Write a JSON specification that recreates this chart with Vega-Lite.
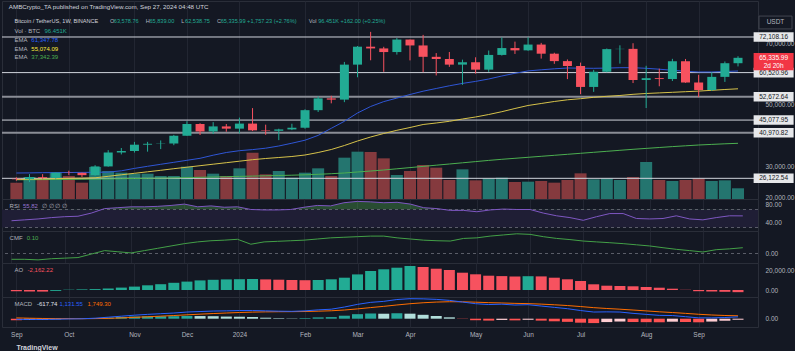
{
"$schema": "https://vega.github.io/schema/vega-lite/v6.json",
"background": "#141823",
"padding": 0,
"spacing": 0,
"bounds": "flush",
"config": {
 "view": {"stroke": "#2a2e39"},
 "font": "Liberation Sans",
 "text": {"font": "Liberation Sans", "fontSize": 6, "align": "left", "baseline": "middle"},
 "axis": {"labelFont": "Liberation Sans", "labelFontSize": 6.5, "labelColor": "#b2b5be", "ticks": false, "domain": false, "labelOverlap": false, "labelFlush": false, "gridColor": "#222632", "gridWidth": 1},
 "axisY": {"grid": false, "labelPadding": 7},
 "axisX": {"grid": true},
 "concat": {"spacing": 0}
},
"datasets": {
 "lv": [{"p":72108.16,"k":"w"},{"p":60520.96,"k":"w"},{"p":52672.64,"k":"g"},{"p":45077.95,"k":"w"},{"p":40970.82,"k":"g"},{"p":26122.54,"k":"w"}],
 "w": [
{"d":"2023-09-04","o":25969,"h":26439,"l":25333,"c":25832,"v":147,"e1":27853,"e2":25738,"e3":25641,"r":45,"cm":-0.10,"ao":-1300,"ad":"d","m":-400,"s":480,"hi":-880,"hc":"nd"},
{"d":"2023-09-11","o":25832,"h":27488,"l":24901,"c":26527,"v":198,"e1":27886,"e2":25803,"e3":25673,"r":47,"cm":-0.10,"ao":-1500,"ad":"d","m":-450,"s":294,"hi":-744,"hc":"nu"},
{"d":"2023-09-18","o":26527,"h":27485,"l":25890,"c":26257,"v":186,"e1":27951,"e2":25901,"e3":25706,"r":49,"cm":-0.11,"ao":-1600,"ad":"d","m":-450,"s":145,"hi":-595,"hc":"nu"},
{"d":"2023-09-25","o":26257,"h":28050,"l":25990,"c":27983,"v":237,"e1":27983,"e2":25998,"e3":25738,"r":52,"cm":-0.09,"ao":-900,"ad":"u","m":-300,"s":56,"hi":-356,"hc":"nu"},
{"d":"2023-10-02","o":27983,"h":28600,"l":27160,"c":27917,"v":207,"e1":28016,"e2":26096,"e3":25771,"r":54,"cm":-0.08,"ao":300,"ad":"u","m":-150,"s":15,"hi":-165,"hc":"nu"},
{"d":"2023-10-09","o":27917,"h":27990,"l":26538,"c":27154,"v":147,"e1":28048,"e2":26194,"e3":25803,"r":55,"cm":-0.07,"ao":600,"ad":"u","m":-50,"s":2,"hi":-52,"hc":"nu"},
{"d":"2023-10-16","o":27154,"h":30400,"l":26980,"c":29993,"v":288,"e1":28081,"e2":26291,"e3":25868,"r":62,"cm":-0.01,"ao":900,"ad":"u","m":300,"s":62,"hi":238,"hc":"pu"},
{"d":"2023-10-23","o":29993,"h":35280,"l":29900,"c":34526,"v":252,"e1":28146,"e2":26780,"e3":25933,"r":72,"cm":0.05,"ao":1500,"ad":"u","m":900,"s":230,"hi":670,"hc":"pu"},
{"d":"2023-10-30","o":34526,"h":35984,"l":33900,"c":35011,"v":237,"e1":28569,"e2":27268,"e3":25998,"r":74,"cm":0.03,"ao":2400,"ad":"u","m":1500,"s":484,"hi":1016,"hc":"pu"},
{"d":"2023-11-06","o":35011,"h":37977,"l":34500,"c":37064,"v":228,"e1":29350,"e2":27756,"e3":26063,"r":76,"cm":0.01,"ao":3400,"ad":"u","m":2100,"s":807,"hi":1293,"hc":"pu"},
{"d":"2023-11-13","o":37064,"h":37980,"l":34800,"c":37359,"v":228,"e1":30033,"e2":28244,"e3":26128,"r":76,"cm":0.05,"ao":4700,"ad":"u","m":2600,"s":1166,"hi":1434,"hc":"pu"},
{"d":"2023-11-20","o":37359,"h":38450,"l":35632,"c":37450,"v":207,"e1":30684,"e2":28732,"e3":26194,"r":77,"cm":0.09,"ao":5800,"ad":"u","m":3000,"s":1533,"hi":1467,"hc":"pu"},
{"d":"2023-11-27","o":37450,"h":40250,"l":36900,"c":39973,"v":207,"e1":31335,"e2":29253,"e3":26259,"r":79,"cm":0.13,"ao":7200,"ad":"u","m":3400,"s":1906,"hi":1494,"hc":"pu"},
{"d":"2023-12-04","o":39973,"h":44700,"l":39970,"c":43790,"v":291,"e1":31986,"e2":29741,"e3":26356,"r":82,"cm":0.17,"ao":8400,"ad":"u","m":4000,"s":2325,"hi":1675,"hc":"pu"},
{"d":"2023-12-11","o":43790,"h":44050,"l":40222,"c":41374,"v":261,"e1":32636,"e2":30229,"e3":26454,"r":76,"cm":0.20,"ao":9600,"ad":"u","m":4300,"s":2720,"hi":1580,"hc":"pd"},
{"d":"2023-12-18","o":41374,"h":44398,"l":40530,"c":43016,"v":228,"e1":33645,"e2":30717,"e3":26552,"r":78,"cm":0.22,"ao":10200,"ad":"u","m":4600,"s":3096,"hi":1504,"hc":"pd"},
{"d":"2023-12-25","o":43016,"h":43800,"l":41300,"c":42284,"v":207,"e1":34524,"e2":31205,"e3":26649,"r":75,"cm":0.23,"ao":10600,"ad":"u","m":4700,"s":3417,"hi":1283,"hc":"pd"},
{"d":"2024-01-01","o":42284,"h":45879,"l":40750,"c":43929,"v":276,"e1":35110,"e2":31693,"e3":26747,"r":76,"cm":0.245,"ao":10800,"ad":"u","m":4900,"s":3714,"hi":1186,"hc":"pd"},
{"d":"2024-01-08","o":43929,"h":48970,"l":41500,"c":41732,"v":417,"e1":35468,"e2":32181,"e3":26845,"r":70,"cm":0.16,"ao":10900,"ad":"u","m":4900,"s":3951,"hi":949,"hc":"pd"},
{"d":"2024-01-15","o":41732,"h":43580,"l":40280,"c":41580,"v":222,"e1":35923,"e2":32572,"e3":26942,"r":69,"cm":0.20,"ao":10600,"ad":"d","m":4700,"s":4101,"hi":599,"hc":"pd"},
{"d":"2024-01-22","o":41580,"h":42259,"l":38555,"c":42031,"v":252,"e1":36639,"e2":32897,"e3":27040,"r":69,"cm":0.21,"ao":10300,"ad":"d","m":4500,"s":4181,"hi":319,"hc":"pd"},
{"d":"2024-01-29","o":42031,"h":43880,"l":41800,"c":42582,"v":192,"e1":37550,"e2":33222,"e3":27137,"r":70,"cm":0.22,"ao":10000,"ad":"d","m":4400,"s":4225,"hi":175,"hc":"pd"},
{"d":"2024-02-05","o":42582,"h":48592,"l":42258,"c":48300,"v":237,"e1":38527,"e2":33710,"e3":27268,"r":75,"cm":0.23,"ao":9800,"ad":"d","m":4700,"s":4320,"hi":380,"hc":"pu"},
{"d":"2024-02-12","o":48300,"h":52816,"l":47710,"c":52137,"v":276,"e1":40089,"e2":34524,"e3":27430,"r":79,"cm":0.25,"ao":10000,"ad":"u","m":5300,"s":4516,"hi":784,"hc":"pu"},
{"d":"2024-02-19","o":52137,"h":52985,"l":50521,"c":51729,"v":207,"e1":42399,"e2":35500,"e3":27626,"r":78,"cm":0.27,"ao":10700,"ad":"u","m":5700,"s":4753,"hi":947,"hc":"pu"},
{"d":"2024-02-26","o":51729,"h":64000,"l":50901,"c":63114,"v":372,"e1":44677,"e2":36802,"e3":27854,"r":85,"cm":0.28,"ao":12300,"ad":"u","m":7000,"s":5202,"hi":1798,"hc":"pu"},
{"d":"2024-03-04","o":63114,"h":69170,"l":59005,"c":68955,"v":426,"e1":47377,"e2":38266,"e3":28179,"r":88,"cm":0.29,"ao":15600,"ad":"u","m":8600,"s":5882,"hi":2718,"hc":"pu"},
{"d":"2024-03-11","o":68955,"h":73777,"l":64533,"c":68390,"v":423,"e1":49493,"e2":39568,"e3":28504,"r":87,"cm":0.30,"ao":19000,"ad":"u","m":9800,"s":6666,"hi":3134,"hc":"pu"},
{"d":"2024-03-18","o":68390,"h":68920,"l":60775,"c":67210,"v":366,"e1":51087,"e2":40707,"e3":28830,"r":85,"cm":0.30,"ao":20700,"ad":"u","m":10400,"s":7413,"hi":2987,"hc":"pd"},
{"d":"2024-03-25","o":67210,"h":71769,"l":66385,"c":71280,"v":216,"e1":52226,"e2":41748,"e3":29220,"r":86,"cm":0.27,"ao":22300,"ad":"u","m":11500,"s":8230,"hi":3270,"hc":"pu"},
{"d":"2024-04-01","o":71280,"h":71288,"l":64500,"c":69360,"v":252,"e1":53397,"e2":42659,"e3":29611,"r":82,"cm":0.25,"ao":24000,"ad":"u","m":12000,"s":8984,"hi":3016,"hc":"pd"},
{"d":"2024-04-08","o":69360,"h":72797,"l":60660,"c":65660,"v":306,"e1":54471,"e2":43635,"e3":30001,"r":74,"cm":0.23,"ao":23000,"ad":"d","m":11900,"s":9567,"hi":2333,"hc":"pd"},
{"d":"2024-04-15","o":65660,"h":66868,"l":59600,"c":64941,"v":282,"e1":55350,"e2":44124,"e3":30392,"r":72,"cm":0.22,"ao":21300,"ad":"d","m":11600,"s":9974,"hi":1626,"hc":"pd"},
{"d":"2024-04-22","o":64941,"h":67233,"l":62391,"c":63118,"v":171,"e1":56228,"e2":44677,"e3":30782,"r":68,"cm":0.215,"ao":20000,"ad":"d","m":11000,"s":10179,"hi":821,"hc":"pd"},
{"d":"2024-04-29","o":63118,"h":64735,"l":56552,"c":63891,"v":267,"e1":57009,"e2":45425,"e3":31173,"r":68,"cm":0.26,"ao":17300,"ad":"d","m":10000,"s":10143,"hi":-143,"hc":"nd"},
{"d":"2024-05-06","o":63891,"h":65500,"l":60187,"c":61484,"v":168,"e1":57660,"e2":46076,"e3":31563,"r":65,"cm":0.27,"ao":15700,"ad":"d","m":9000,"s":9914,"hi":-914,"hc":"nd"},
{"d":"2024-05-13","o":61484,"h":67700,"l":60750,"c":66274,"v":186,"e1":58441,"e2":46889,"e3":31954,"r":69,"cm":0.30,"ao":14300,"ad":"d","m":8500,"s":9631,"hi":-1131,"hc":"nd"},
{"d":"2024-05-20","o":66274,"h":71979,"l":66060,"c":68507,"v":192,"e1":59417,"e2":47801,"e3":32312,"r":71,"cm":0.32,"ao":13900,"ad":"d","m":8700,"s":9445,"hi":-745,"hc":"nu"},
{"d":"2024-05-27","o":68507,"h":70600,"l":66600,"c":67766,"v":153,"e1":60296,"e2":48842,"e3":32637,"r":70,"cm":0.34,"ao":13500,"ad":"d","m":8200,"s":9196,"hi":-996,"hc":"nd"},
{"d":"2024-06-03","o":67766,"h":71997,"l":67612,"c":69648,"v":156,"e1":61077,"e2":49819,"e3":32962,"r":70,"cm":0.33,"ao":13800,"ad":"u","m":8400,"s":9037,"hi":-637,"hc":"nu"},
{"d":"2024-06-10","o":69648,"h":70195,"l":65078,"c":66676,"v":162,"e1":61435,"e2":50469,"e3":33288,"r":62,"cm":0.29,"ao":13600,"ad":"d","m":7600,"s":8750,"hi":-1150,"hc":"nd"},
{"d":"2024-06-17","o":66676,"h":66986,"l":63379,"c":64260,"v":147,"e1":61760,"e2":51120,"e3":33613,"r":56,"cm":0.26,"ao":12300,"ad":"d","m":6800,"s":8360,"hi":-1560,"hc":"nd"},
{"d":"2024-06-24","o":64260,"h":64800,"l":58402,"c":62678,"v":171,"e1":62020,"e2":51673,"e3":33939,"r":52,"cm":0.24,"ao":10700,"ad":"d","m":6000,"s":7888,"hi":-1888,"hc":"nd"},
{"d":"2024-07-01","o":62678,"h":63777,"l":53485,"c":55857,"v":231,"e1":61955,"e2":52031,"e3":34264,"r":46,"cm":0.215,"ao":9000,"ad":"d","m":4900,"s":7290,"hi":-2390,"hc":"nd"},
{"d":"2024-07-08","o":55857,"h":61420,"l":54260,"c":60797,"v":177,"e1":61923,"e2":52487,"e3":34589,"r":54,"cm":0.20,"ao":5700,"ad":"d","m":4000,"s":6632,"hi":-2632,"hc":"nd"},
{"d":"2024-07-15","o":60797,"h":68366,"l":60631,"c":68165,"v":186,"e1":61988,"e2":52812,"e3":34915,"r":61,"cm":0.186,"ao":4300,"ad":"d","m":4100,"s":6126,"hi":-2026,"hc":"nu"},
{"d":"2024-07-22","o":68165,"h":69399,"l":63456,"c":68249,"v":171,"e1":62118,"e2":53073,"e3":35240,"r":61,"cm":0.17,"ao":4000,"ad":"d","m":4000,"s":5701,"hi":-1701,"hc":"nu"},
{"d":"2024-07-29","o":68249,"h":70079,"l":57122,"c":58116,"v":198,"e1":62118,"e2":53463,"e3":35565,"r":50,"cm":0.15,"ao":3700,"ad":"d","m":3200,"s":5201,"hi":-2001,"hc":"nd"},
{"d":"2024-08-05","o":58116,"h":62745,"l":49000,"c":58713,"v":333,"e1":61923,"e2":53723,"e3":35858,"r":49,"cm":0.13,"ao":3000,"ad":"d","m":2600,"s":4681,"hi":-2081,"hc":"nd"},
{"d":"2024-08-12","o":58713,"h":61800,"l":56078,"c":58427,"v":171,"e1":61630,"e2":53918,"e3":36151,"r":50,"cm":0.10,"ao":2300,"ad":"d","m":2000,"s":4145,"hi":-2145,"hc":"nd"},
{"d":"2024-08-19","o":58427,"h":65000,"l":57787,"c":64220,"v":162,"e1":61272,"e2":54114,"e3":36444,"r":56,"cm":0.072,"ao":1300,"ad":"d","m":1900,"s":3696,"hi":-1796,"hc":"nu"},
{"d":"2024-08-26","o":64220,"h":64962,"l":57201,"c":57301,"v":171,"e1":60947,"e2":54309,"e3":36704,"r":49,"cm":0.05,"ao":200,"ad":"d","m":1200,"s":3197,"hi":-1997,"hc":"nd"},
{"d":"2024-09-02","o":57301,"h":59809,"l":52550,"c":54869,"v":186,"e1":60719,"e2":54504,"e3":36964,"r":47,"cm":0.026,"ao":-1200,"ad":"d","m":500,"s":2658,"hi":-2158,"hc":"nd"},
{"d":"2024-09-09","o":54869,"h":60670,"l":54565,"c":59132,"v":162,"e1":60719,"e2":54764,"e3":37160,"r":52,"cm":0.066,"ao":-1500,"ad":"d","m":500,"s":2226,"hi":-1726,"hc":"nu"},
{"d":"2024-09-16","o":59132,"h":64133,"l":57493,"c":63578,"v":168,"e1":60882,"e2":55025,"e3":37355,"r":56,"cm":0.08,"ao":-1800,"ad":"d","m":700,"s":1921,"hi":-1221,"hc":"nu"},
{"d":"2024-09-23","o":63578.76,"h":65839,"l":62538.75,"c":65335.99,"v":96.451,"e1":61044,"e2":55253,"e3":37518,"r":55.82,"cm":0.10,"ao":-2162.22,"ad":"d","m":1131.55,"s":1749.30,"hi":-617.74,"hc":"nu"}
 ]
},
"vconcat": [
 {
  "width": 756, "height": 198,
  "data": {"name": "w"},
  "resolve": {"scale": {"y": "independent"}},
  "layer": [
   {"mark": {"type": "bar", "width": 12},
    "encoding": {
     "x": {"field": "d", "type": "temporal", "scale": {"type": "utc", "domain": [{"year":2023,"month":8,"date":30,"utc":true},{"year":2024,"month":10,"date":1,"utc":true}]},
           "axis": {"values": [{"year":2023,"month":9,"date":4,"utc":true},{"year":2023,"month":10,"date":2,"utc":true},{"year":2023,"month":11,"date":6,"utc":true},{"year":2023,"month":12,"date":4,"utc":true},{"year":2024,"month":1,"date":1,"utc":true},{"year":2024,"month":2,"date":5,"utc":true},{"year":2024,"month":3,"date":4,"utc":true},{"year":2024,"month":4,"date":1,"utc":true},{"year":2024,"month":5,"date":6,"utc":true},{"year":2024,"month":6,"date":3,"utc":true},{"year":2024,"month":7,"date":1,"utc":true},{"year":2024,"month":8,"date":5,"utc":true},{"year":2024,"month":9,"date":2,"utc":true}], "labels": false, "title": null}},
     "y": {"field": "v", "type": "quantitative", "scale": {"domain": [0, 1782], "nice": false}, "axis": null},
     "y2": {"datum": 0},
     "color": {"condition": {"test": "datum.c >= datum.o", "value": "#24756f"}, "value": "#853a3e"}
    }},
   {"layer": [
     {"data": {"name": "lv"}, "mark": {"type": "rule"},
      "encoding": {
       "y": {"field": "p", "type": "quantitative", "scale": {"domain": [19393, 83822], "nice": false, "zero": false},
             "axis": {"orient": "right", "values": [20000, 30000, 50000, 70000], "format": ",.2f", "title": null}},
       "color": {"condition": {"test": "datum.k == 'g'", "value": "#8a8d96"}, "value": "#d1d4dc"},
       "strokeWidth": {"condition": {"test": "datum.k == 'g'", "value": 2}, "value": 1}
      }},
     {"mark": {"type": "line", "color": "#4caf50", "strokeWidth": 1}, "encoding": {"x": {"field": "d", "type": "temporal"}, "y": {"field": "e3", "type": "quantitative"}}},
     {"mark": {"type": "line", "color": "#d6c24a", "strokeWidth": 1}, "encoding": {"x": {"field": "d", "type": "temporal"}, "y": {"field": "e2", "type": "quantitative"}}},
     {"mark": {"type": "line", "color": "#2f56d6", "strokeWidth": 1}, "encoding": {"x": {"field": "d", "type": "temporal"}, "y": {"field": "e1", "type": "quantitative"}}},
     {"mark": {"type": "rule", "strokeWidth": 1},
      "encoding": {"x": {"field": "d", "type": "temporal"}, "y": {"field": "l", "type": "quantitative"}, "y2": {"field": "h"},
       "color": {"condition": {"test": "datum.c >= datum.o", "value": "#22ab94"}, "value": "#f7525f"}}},
     {"mark": {"type": "bar", "width": 9},
      "encoding": {"x": {"field": "d", "type": "temporal"}, "y": {"field": "o", "type": "quantitative"}, "y2": {"field": "c"},
       "color": {"condition": {"test": "datum.c >= datum.o", "value": "#22ab94"}, "value": "#f7525f"}}},
     {"data": {"name": "lv"}, "mark": {"type": "point", "shape": "M-1,-0.24L1,-0.24L1,0.24L-1,0.24Z", "size": 1600, "filled": true, "color": "#e6e7ea", "opacity": 1, "strokeWidth": 0},
      "encoding": {"x": {"datum": {"year":2024,"month":10,"date":12,"utc":true}, "type": "temporal"}, "y": {"field": "p", "type": "quantitative"}}},
     {"data": {"name": "lv"}, "mark": {"type": "text", "align": "center", "color": "#131722", "fontSize": 6.5},
      "encoding": {"x": {"datum": {"year":2024,"month":10,"date":12,"utc":true}, "type": "temporal"}, "y": {"field": "p", "type": "quantitative"}, "text": {"field": "p", "type": "quantitative", "format": ",.2f"}}},
     {"data": {"values": [{}]}, "mark": {"type": "point", "shape": "M-1,-0.24L1,-0.24L1,0.62L-1,0.62Z", "size": 1600, "filled": true, "color": "#f23645", "opacity": 1, "strokeWidth": 0},
      "encoding": {"x": {"datum": {"year":2024,"month":10,"date":12,"utc":true}, "type": "temporal"}, "y": {"datum": 65335.99, "type": "quantitative"}}},
     {"data": {"values": [{}]}, "mark": {"type": "text", "align": "center", "color": "#ffffff", "fontSize": 6.5, "text": "65,335.99"},
      "encoding": {"x": {"datum": {"year":2024,"month":10,"date":12,"utc":true}, "type": "temporal"}, "y": {"datum": 65335.99, "type": "quantitative"}}},
     {"data": {"values": [{}]}, "mark": {"type": "text", "align": "center", "color": "#ffffff", "fontSize": 6.5, "text": "2d 20h", "dy": 8},
      "encoding": {"x": {"datum": {"year":2024,"month":10,"date":12,"utc":true}, "type": "temporal"}, "y": {"datum": 65335.99, "type": "quantitative"}}},
     {"data": {"values": [{}]}, "mark": {"type": "point", "shape": "M-1,-0.39L1,-0.39L1,0.39L-1,0.39Z", "size": 1089, "filled": false, "color": "#434651", "opacity": 1, "strokeWidth": 1},
      "encoding": {"x": {"datum": {"year":2024,"month":10,"date":13,"utc":true}, "type": "temporal"}, "y": {"datum": 76826, "type": "quantitative"}}},
     {"data": {"values": [{}]}, "mark": {"type": "text", "align": "center", "color": "#b2b5be", "fontSize": 6.5, "text": "USDT"},
      "encoding": {"x": {"datum": {"year":2024,"month":10,"date":13,"utc":true}, "type": "temporal"}, "y": {"datum": 76826, "type": "quantitative"}}},
     {"data": {"values": [{}]}, "mark": {"type": "text", "color": "#d1d4dc", "fontSize": 6.2, "text": "AMBCrypto_TA published on TradingView.com, Sep 27, 2024 04:48 UTC"},
      "encoding": {"x": {"datum": {"year":2023,"month":8,"date":31,"utc":true}, "type": "temporal"}, "y": {"datum": 81870, "type": "quantitative"}}},
     {"data": {"values": [{}]}, "mark": {"type": "text", "color": "#d1d4dc", "fontSize": 5.6, "text": "Bitcoin / TetherUS, 1W, BINANCE"},
      "encoding": {"x": {"datum": {"year":2023,"month":9,"date":3,"utc":true}, "type": "temporal"}, "y": {"datum": 77314, "type": "quantitative"}}},
     {"data": {"values": [{}]}, "mark": {"type": "text", "color": "#b2b5be", "fontSize": 5.6, "text": "O"},
      "encoding": {"x": {"datum": {"year":2023,"month":10,"date":24,"utc":true}, "type": "temporal"}, "y": {"datum": 77314, "type": "quantitative"}}},
     {"data": {"values": [{}]}, "mark": {"type": "text", "color": "#22ab94", "fontSize": 5.6, "text": "63,578.76"},
      "encoding": {"x": {"datum": {"year":2023,"month":10,"date":26,"utc":true}, "type": "temporal"}, "y": {"datum": 77314, "type": "quantitative"}}},
     {"data": {"values": [{}]}, "mark": {"type": "text", "color": "#b2b5be", "fontSize": 5.6, "text": "H"},
      "encoding": {"x": {"datum": {"year":2023,"month":11,"date":12,"utc":true}, "type": "temporal"}, "y": {"datum": 77314, "type": "quantitative"}}},
     {"data": {"values": [{}]}, "mark": {"type": "text", "color": "#22ab94", "fontSize": 5.6, "text": "65,839.00"},
      "encoding": {"x": {"datum": {"year":2023,"month":11,"date":14,"utc":true}, "type": "temporal"}, "y": {"datum": 77314, "type": "quantitative"}}},
     {"data": {"values": [{}]}, "mark": {"type": "text", "color": "#b2b5be", "fontSize": 5.6, "text": "L"},
      "encoding": {"x": {"datum": {"year":2023,"month":12,"date":1,"utc":true}, "type": "temporal"}, "y": {"datum": 77314, "type": "quantitative"}}},
     {"data": {"values": [{}]}, "mark": {"type": "text", "color": "#22ab94", "fontSize": 5.6, "text": "62,538.75"},
      "encoding": {"x": {"datum": {"year":2023,"month":12,"date":3,"utc":true}, "type": "temporal"}, "y": {"datum": 77314, "type": "quantitative"}}},
     {"data": {"values": [{}]}, "mark": {"type": "text", "color": "#b2b5be", "fontSize": 5.6, "text": "C"},
      "encoding": {"x": {"datum": {"year":2023,"month":12,"date":20,"utc":true}, "type": "temporal"}, "y": {"datum": 77314, "type": "quantitative"}}},
     {"data": {"values": [{}]}, "mark": {"type": "text", "color": "#22ab94", "fontSize": 5.6, "text": "65,335.99 +1,757.23 (+2.76%)"},
      "encoding": {"x": {"datum": {"year":2023,"month":12,"date":22,"utc":true}, "type": "temporal"}, "y": {"datum": 77314, "type": "quantitative"}}},
     {"data": {"values": [{}]}, "mark": {"type": "text", "color": "#b2b5be", "fontSize": 5.6, "text": "Vol"},
      "encoding": {"x": {"datum": {"year":2024,"month":2,"date":7,"utc":true}, "type": "temporal"}, "y": {"datum": 77314, "type": "quantitative"}}},
     {"data": {"values": [{}]}, "mark": {"type": "text", "color": "#22ab94", "fontSize": 5.6, "text": "96.451K +162.00 (+0.25%)"},
      "encoding": {"x": {"datum": {"year":2024,"month":2,"date":12,"utc":true}, "type": "temporal"}, "y": {"datum": 77314, "type": "quantitative"}}},
     {"data": {"values": [{}]}, "mark": {"type": "text", "color": "#b2b5be", "text": "Vol · BTC"},
      "encoding": {"x": {"datum": {"year":2023,"month":9,"date":3,"utc":true}, "type": "temporal"}, "y": {"datum": 74060, "type": "quantitative"}}},
     {"data": {"values": [{}]}, "mark": {"type": "text", "color": "#22ab94", "text": "96.451K"},
      "encoding": {"x": {"datum": {"year":2023,"month":9,"date":19,"utc":true}, "type": "temporal"}, "y": {"datum": 74060, "type": "quantitative"}}},
     {"data": {"values": [{}]}, "mark": {"type": "text", "color": "#b2b5be", "text": "EMA"},
      "encoding": {"x": {"datum": {"year":2023,"month":9,"date":3,"utc":true}, "type": "temporal"}, "y": {"datum": 71131, "type": "quantitative"}}},
     {"data": {"values": [{}]}, "mark": {"type": "text", "color": "#2962ff", "text": "61,347.78"},
      "encoding": {"x": {"datum": {"year":2023,"month":9,"date":12,"utc":true}, "type": "temporal"}, "y": {"datum": 71131, "type": "quantitative"}}},
     {"data": {"values": [{}]}, "mark": {"type": "text", "color": "#b2b5be", "text": "EMA"},
      "encoding": {"x": {"datum": {"year":2023,"month":9,"date":3,"utc":true}, "type": "temporal"}, "y": {"datum": 68300, "type": "quantitative"}}},
     {"data": {"values": [{}]}, "mark": {"type": "text", "color": "#ffeb3b", "text": "55,074.09"},
      "encoding": {"x": {"datum": {"year":2023,"month":9,"date":12,"utc":true}, "type": "temporal"}, "y": {"datum": 68300, "type": "quantitative"}}},
     {"data": {"values": [{}]}, "mark": {"type": "text", "color": "#b2b5be", "text": "EMA"},
      "encoding": {"x": {"datum": {"year":2023,"month":9,"date":3,"utc":true}, "type": "temporal"}, "y": {"datum": 65600, "type": "quantitative"}}},
     {"data": {"values": [{}]}, "mark": {"type": "text", "color": "#4caf50", "text": "37,342.39"},
      "encoding": {"x": {"datum": {"year":2023,"month":9,"date":12,"utc":true}, "type": "temporal"}, "y": {"datum": 65600, "type": "quantitative"}}}
   ]}
  ]
 },
 {
  "width": 756, "height": 32,
  "data": {"name": "w"},
  "layer": [
   {"mark": {"type": "area", "color": "#4caf50", "opacity": 0.35},
    "encoding": {
     "x": {"field": "d", "type": "temporal", "scale": {"type": "utc", "domain": [{"year":2023,"month":8,"date":30,"utc":true},{"year":2024,"month":10,"date":1,"utc":true}]},
           "axis": {"values": [{"year":2023,"month":9,"date":4,"utc":true},{"year":2023,"month":10,"date":2,"utc":true},{"year":2023,"month":11,"date":6,"utc":true},{"year":2023,"month":12,"date":4,"utc":true},{"year":2024,"month":1,"date":1,"utc":true},{"year":2024,"month":2,"date":5,"utc":true},{"year":2024,"month":3,"date":4,"utc":true},{"year":2024,"month":4,"date":1,"utc":true},{"year":2024,"month":5,"date":6,"utc":true},{"year":2024,"month":6,"date":3,"utc":true},{"year":2024,"month":7,"date":1,"utc":true},{"year":2024,"month":8,"date":5,"utc":true},{"year":2024,"month":9,"date":2,"utc":true}], "labels": false, "title": null}},
     "y": {"field": "r", "type": "quantitative", "scale": {"domain": [22.22, 93.33], "nice": false, "zero": false},
           "axis": {"orient": "right", "values": [40, 80], "format": ".2f", "title": null}},
     "y2": {"datum": 70}
    }},
   {"data": {"values": [{}]}, "mark": {"type": "rect", "color": "#1f1e35"}, "encoding": {"y": {"datum": 70}, "y2": {"datum": 30}}},
   {"data": {"values": [{}]}, "mark": {"type": "rule", "color": "#787b86", "strokeDash": [3, 3], "opacity": 0.7}, "encoding": {"y": {"datum": 70}}},
   {"data": {"values": [{}]}, "mark": {"type": "rule", "color": "#787b86", "strokeDash": [3, 3], "opacity": 0.7}, "encoding": {"y": {"datum": 30}}},
   {"mark": {"type": "line", "color": "#7e57c2", "strokeWidth": 1}, "encoding": {"x": {"field": "d", "type": "temporal"}, "y": {"field": "r", "type": "quantitative"}}},
   {"data": {"values": [{}]}, "mark": {"type": "text", "color": "#b2b5be", "text": "RSI"},
    "encoding": {"x": {"datum": {"year":2023,"month":9,"date":3,"utc":true}, "type": "temporal"}, "y": {"datum": 77.8, "type": "quantitative"}}},
   {"data": {"values": [{}]}, "mark": {"type": "text", "color": "#9575cd", "text": "55.82"},
    "encoding": {"x": {"datum": {"year":2023,"month":9,"date":10,"utc":true}, "type": "temporal"}, "y": {"datum": 77.8, "type": "quantitative"}}},
   {"data": {"values": [{}]}, "mark": {"type": "text", "color": "#b2b5be", "text": "∅ ∅ ∅ ∅"},
    "encoding": {"x": {"datum": {"year":2023,"month":9,"date":20,"utc":true}, "type": "temporal"}, "y": {"datum": 77.8, "type": "quantitative"}}}
  ]
 },
 {
  "width": 756, "height": 32,
  "data": {"name": "w"},
  "layer": [
   {"data": {"values": [{}]}, "mark": {"type": "rule", "color": "#787b86", "strokeDash": [3, 3], "opacity": 0.7},
    "encoding": {
     "y": {"datum": 0, "type": "quantitative", "scale": {"domain": [-0.1637, 0.388], "nice": false, "zero": false},
           "axis": {"orient": "right", "values": [0], "format": ".2f", "title": null}}}},
   {"mark": {"type": "line", "color": "#43a047", "strokeWidth": 1},
    "encoding": {
     "x": {"field": "d", "type": "temporal", "scale": {"type": "utc", "domain": [{"year":2023,"month":8,"date":30,"utc":true},{"year":2024,"month":10,"date":1,"utc":true}]},
           "axis": {"values": [{"year":2023,"month":9,"date":4,"utc":true},{"year":2023,"month":10,"date":2,"utc":true},{"year":2023,"month":11,"date":6,"utc":true},{"year":2023,"month":12,"date":4,"utc":true},{"year":2024,"month":1,"date":1,"utc":true},{"year":2024,"month":2,"date":5,"utc":true},{"year":2024,"month":3,"date":4,"utc":true},{"year":2024,"month":4,"date":1,"utc":true},{"year":2024,"month":5,"date":6,"utc":true},{"year":2024,"month":6,"date":3,"utc":true},{"year":2024,"month":7,"date":1,"utc":true},{"year":2024,"month":8,"date":5,"utc":true},{"year":2024,"month":9,"date":2,"utc":true}], "labels": false, "title": null}},
     "y": {"field": "cm", "type": "quantitative"}}},
   {"data": {"values": [{}]}, "mark": {"type": "text", "color": "#b2b5be", "text": "CMF"},
    "encoding": {"x": {"datum": {"year":2023,"month":9,"date":3,"utc":true}, "type": "temporal"}, "y": {"datum": 0.267, "type": "quantitative"}}},
   {"data": {"values": [{}]}, "mark": {"type": "text", "color": "#4caf50", "text": "0.10"},
    "encoding": {"x": {"datum": {"year":2023,"month":9,"date":12,"utc":true}, "type": "temporal"}, "y": {"datum": 0.267, "type": "quantitative"}}}
  ]
 },
 {
  "width": 756, "height": 34,
  "data": {"name": "w"},
  "layer": [
   {"mark": {"type": "bar", "width": 11},
    "encoding": {
     "x": {"field": "d", "type": "temporal", "scale": {"type": "utc", "domain": [{"year":2023,"month":8,"date":30,"utc":true},{"year":2024,"month":10,"date":1,"utc":true}]},
           "axis": {"values": [{"year":2023,"month":9,"date":4,"utc":true},{"year":2023,"month":10,"date":2,"utc":true},{"year":2023,"month":11,"date":6,"utc":true},{"year":2023,"month":12,"date":4,"utc":true},{"year":2024,"month":1,"date":1,"utc":true},{"year":2024,"month":2,"date":5,"utc":true},{"year":2024,"month":3,"date":4,"utc":true},{"year":2024,"month":4,"date":1,"utc":true},{"year":2024,"month":5,"date":6,"utc":true},{"year":2024,"month":6,"date":3,"utc":true},{"year":2024,"month":7,"date":1,"utc":true},{"year":2024,"month":8,"date":5,"utc":true},{"year":2024,"month":9,"date":2,"utc":true}], "labels": false, "title": null}},
     "y": {"field": "ao", "type": "quantitative", "scale": {"domain": [-7000, 27000], "nice": false, "zero": false},
           "axis": {"orient": "right", "values": [0, 20000], "format": ",.2f", "title": null}},
     "y2": {"datum": 0},
     "color": {"condition": {"test": "datum.ad == 'u'", "value": "#22ab94"}, "value": "#f7525f"}
    }},
   {"data": {"values": [{}]}, "mark": {"type": "text", "color": "#b2b5be", "text": "AO"},
    "encoding": {"x": {"datum": {"year":2023,"month":9,"date":3,"utc":true}, "type": "temporal"}, "y": {"datum": 20000, "type": "quantitative"}}},
   {"data": {"values": [{}]}, "mark": {"type": "text", "color": "#f7525f", "text": "-2,162.22"},
    "encoding": {"x": {"datum": {"year":2023,"month":9,"date":10,"utc":true}, "type": "temporal"}, "y": {"datum": 20000, "type": "quantitative"}}}
  ]
 },
 {
  "width": 756, "height": 30,
  "data": {"name": "w"},
  "layer": [
   {"mark": {"type": "bar", "width": 11},
    "encoding": {
     "x": {"field": "d", "type": "temporal", "scale": {"type": "utc", "domain": [{"year":2023,"month":8,"date":30,"utc":true},{"year":2024,"month":10,"date":1,"utc":true}]},
           "axis": {"values": [{"year":2023,"month":9,"date":4,"utc":true},{"year":2023,"month":10,"date":2,"utc":true},{"year":2023,"month":11,"date":6,"utc":true},{"year":2023,"month":12,"date":4,"utc":true},{"year":2024,"month":1,"date":1,"utc":true},{"year":2024,"month":2,"date":5,"utc":true},{"year":2024,"month":3,"date":4,"utc":true},{"year":2024,"month":4,"date":1,"utc":true},{"year":2024,"month":5,"date":6,"utc":true},{"year":2024,"month":6,"date":3,"utc":true},{"year":2024,"month":7,"date":1,"utc":true},{"year":2024,"month":8,"date":5,"utc":true},{"year":2024,"month":9,"date":2,"utc":true}],
                    "labelExpr": "utcFormat(datum.value, '%m') == '01' ? utcFormat(datum.value, '%Y') : utcFormat(datum.value, '%b')",
                    "labelPadding": 4, "labelFontSize": 6.5,
                    "title": "TradingView", "titleAnchor": "start", "titleAlign": "left", "titleX": 14, "titleY": 20, "titleFontSize": 7, "titleColor": "#d1d4dc", "titleFontWeight": "bold", "titleBaseline": "middle", "titleFont": "Liberation Sans"}},
     "y": {"field": "hi", "type": "quantitative", "scale": {"domain": [-4980, 13020], "nice": false, "zero": false},
           "axis": {"orient": "right", "values": [0], "format": ".2f", "title": null}},
     "y2": {"datum": 0},
     "color": {"condition": [{"test": "datum.hc == 'pu'", "value": "#26a69a"}, {"test": "datum.hc == 'pd'", "value": "#b2dfdb"}, {"test": "datum.hc == 'nd'", "value": "#ff5252"}], "value": "#ffcdd2"}
    }},
   {"mark": {"type": "line", "color": "#ff6d00", "strokeWidth": 1}, "encoding": {"x": {"field": "d", "type": "temporal"}, "y": {"field": "s", "type": "quantitative"}}},
   {"mark": {"type": "line", "color": "#2962ff", "strokeWidth": 1}, "encoding": {"x": {"field": "d", "type": "temporal"}, "y": {"field": "m", "type": "quantitative"}}},
   {"data": {"values": [{}]}, "mark": {"type": "text", "color": "#b2b5be", "text": "MACD"},
    "encoding": {"x": {"datum": {"year":2023,"month":9,"date":3,"utc":true}, "type": "temporal"}, "y": {"datum": 8820, "type": "quantitative"}}},
   {"data": {"values": [{}]}, "mark": {"type": "text", "color": "#e0e3eb", "text": "-617.74"},
    "encoding": {"x": {"datum": {"year":2023,"month":9,"date":15,"utc":true}, "type": "temporal"}, "y": {"datum": 8820, "type": "quantitative"}}},
   {"data": {"values": [{}]}, "mark": {"type": "text", "color": "#2962ff", "text": "1,131.55"},
    "encoding": {"x": {"datum": {"year":2023,"month":9,"date":27,"utc":true}, "type": "temporal"}, "y": {"datum": 8820, "type": "quantitative"}}},
   {"data": {"values": [{}]}, "mark": {"type": "text", "color": "#ff6d00", "text": "1,749.30"},
    "encoding": {"x": {"datum": {"year":2023,"month":10,"date":12,"utc":true}, "type": "temporal"}, "y": {"datum": 8820, "type": "quantitative"}}}
  ]
 }
]
}
